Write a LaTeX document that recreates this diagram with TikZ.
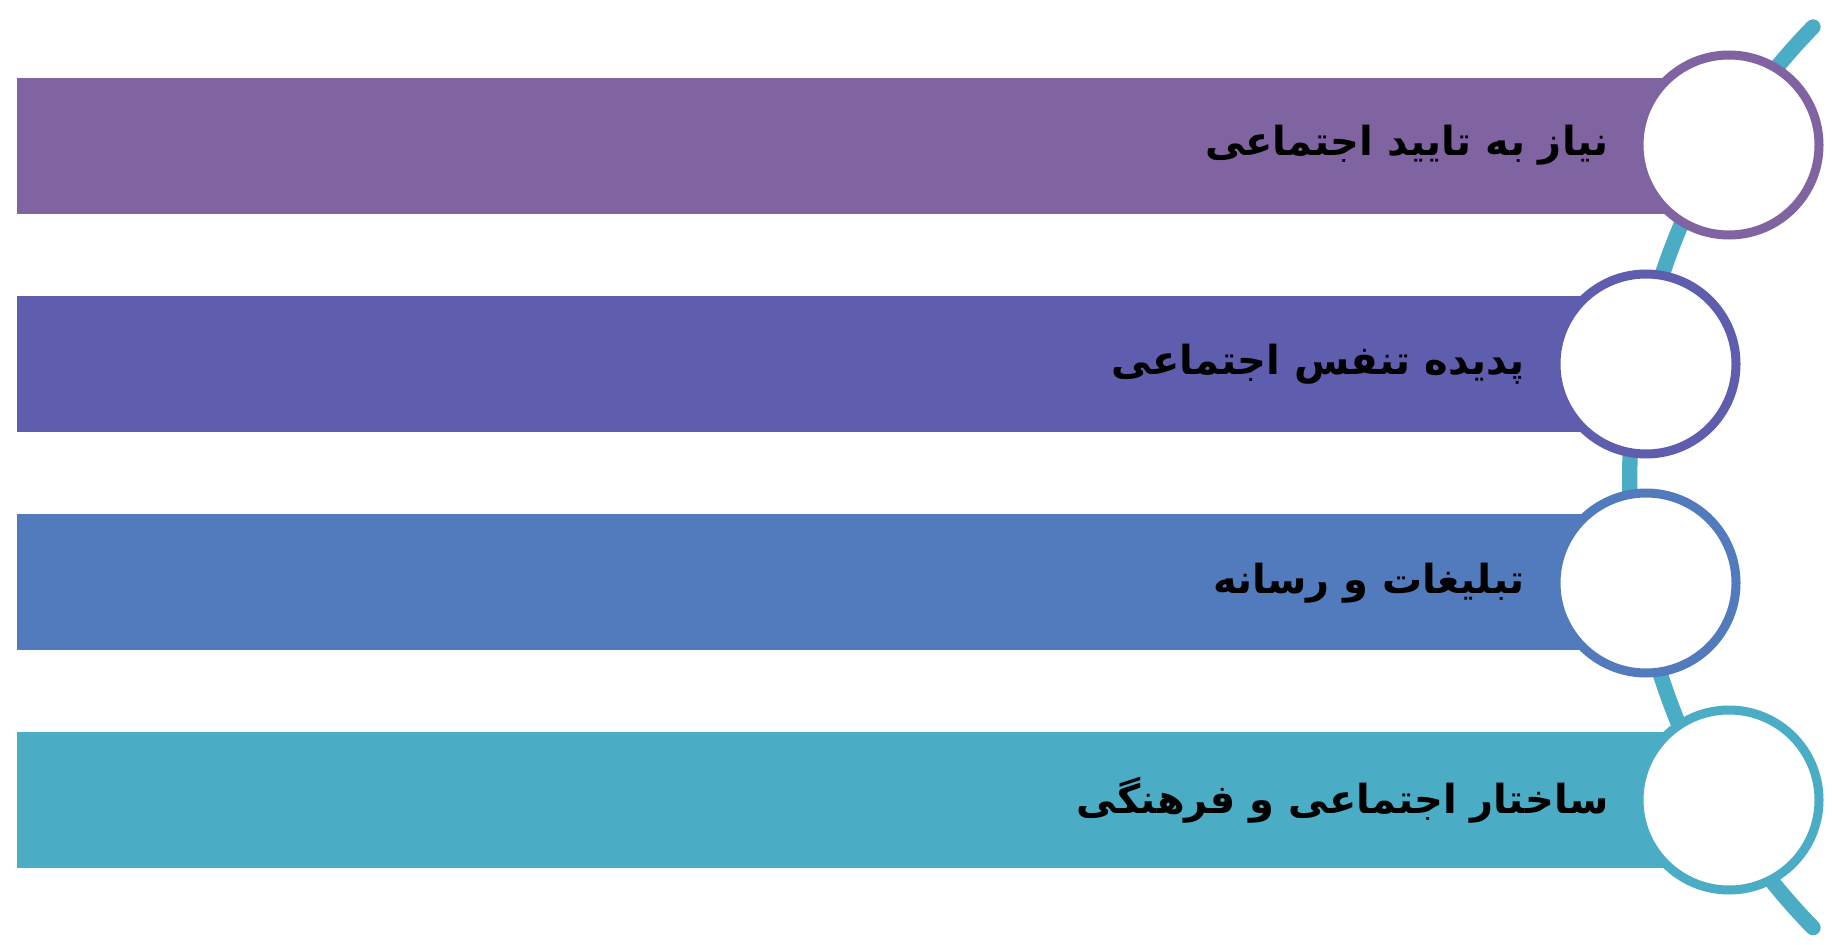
\documentclass[tikz,border=0pt]{standalone}
\usepackage{fontspec}
\newfontfamily\arabicfont[Script=Arabic]{DejaVu Sans}
\TeXXeTstate=1
\definecolor{barA}{RGB}{128,100,162}
\definecolor{barB}{RGB}{95,93,174}
\definecolor{barC}{RGB}{82,123,189}
\definecolor{barD}{RGB}{75,172,198}
\tikzset{every picture/.style={line width=0.75pt}}
\tikzset{
  ring/.style={circle,fill=white,line width=6.75pt,minimum size=135pt,inner sep=0pt},
  label/.style={anchor=east,inner sep=0.75pt,font=\arabicfont\bfseries\fontsize{30}{36}\selectfont},
}

\begin{document}
\begin{tikzpicture}[x=0.75pt,y=0.75pt,yscale=-1,xscale=1]
\useasboundingbox (0,0) rectangle (1832,945);

%Arc behind the rings
\coordinate (arcTop) at (1813,27);
\draw [color=barD,line width=11.5pt,line cap=round] (arcTop) arc[start angle=224.3, end angle=135.7, radius=644.8];

%Bars
\fill [barA] (17,78) rectangle (1729,214);
\fill [barB] (17,296) rectangle (1646,432);
\fill [barC] (17,514) rectangle (1646,650);
\fill [barD] (17,732) rectangle (1729,868);

%Rings
\node (ringA) [ring,draw=barA] at (1729,145) {};
\node (ringB) [ring,draw=barB] at (1646,364) {};
\node (ringC) [ring,draw=barC] at (1646,583) {};
\node (ringD) [ring,draw=barD] at (1729,800) {};

% Text Node
\node (textA) [label] at (1610,145) {\beginR نیاز به تایید اجتماعی\endR};
% Text Node
\node (textB) [label] at (1526,364) {\beginR پدیده تنفس اجتماعی\endR};
% Text Node
\node (textC) [label] at (1526,583) {\beginR تبلیغات و رسانه\endR};
% Text Node
\node (textD) [label] at (1610,800) {\beginR ساختار اجتماعی و فرهنگی\endR};
\end{tikzpicture}
\end{document}
